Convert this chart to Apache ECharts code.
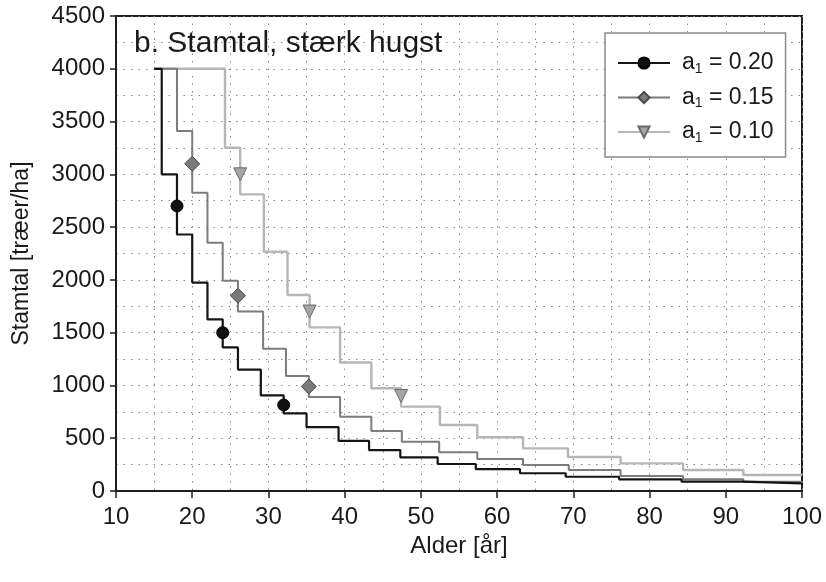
<!DOCTYPE html>
<html><head><meta charset="utf-8">
<script src="https://cdn.jsdelivr.net/npm/echarts@6/dist/echarts.min.js"></script>
<style>html,body{margin:0;padding:0;background:#fff}#c{width:826px;height:582px}</style>
</head><body><div id="c"></div>
<script>
// ---- data ----
const seriesNames = ['0.20', '0.15', '0.10'];
const ages020  = [15, 16, 18, 20, 22, 24, 26, 29, 32, 35, 39.2, 43.2, 47.3, 52.2, 57.2, 63, 69, 76, 84.2, 92.2, 100];
const stems020 = [4000, 3000, 2430, 1975, 1625, 1360, 1150, 905, 735, 605, 475, 388, 319, 256, 208, 168, 135, 111, 88, 73, 73];
const ages015  = [15, 18, 20, 22, 24, 26, 29.3, 32.3, 35.3, 39.4, 43.5, 47.5, 52.4, 57.4, 63.4, 69.4, 76.2, 84.4, 92.3, 100];
const stems015 = [4000, 3410, 2826, 2352, 1993, 1700, 1348, 1089, 890, 704, 568, 467, 366, 303, 246, 199, 142, 111, 88, 88];
const ages010  = [15, 24.3, 26.3, 29.4, 32.5, 35.4, 39.4, 43.5, 47.4, 52.5, 57.4, 63.4, 69.3, 76.2, 84.4, 92.3, 100];
const stems010 = [4000, 3252, 2810, 2267, 1857, 1550, 1218, 973, 799, 625, 509, 404, 322, 262, 199, 152, 152];
const markAges020 = [18, 24, 32];      const markStems020 = [2700, 1500, 815];
const markAges015 = [20, 26, 35.3];    const markStems015 = [3100, 1850, 990];
const markAges010 = [26.3, 35.4, 47.4]; const markStems010 = [3000, 1700, 900];
const xTicks = [10, 20, 30, 40, 50, 60, 70, 80, 90, 100];
const yTicks = [0, 500, 1000, 1500, 2000, 2500, 3000, 3500, 4000, 4500];
const titleText = 'b. Stamtal, stærk hugst';
const xName = 'Alder [år]';
const yName = 'Stamtal [træer/ha]';

const zip = (a, b) => a.map((v, i) => [v, b[i]]);
const FONT = '"Liberation Sans", Arial, Helvetica, sans-serif';

const styles = [
  { line: '#151515', width: 2.2, symbol: 'circle', size: 12, rot: 0, fill: '#111', border: '#000' },
  { line: '#7c7c7c', width: 2, symbol: 'diamond', size: 15, rot: 0, fill: '#7a7a7a', border: '#4a4a4a' },
  { line: '#b6b6b6', width: 2.4, symbol: 'triangle', size: 13, rot: 180, fill: '#a6a6a6', border: '#6a6a6a' }
];
const lineData = [zip(ages020, stems020), zip(ages015, stems015), zip(ages010, stems010)];
const markData = [zip(markAges020, markStems020), zip(markAges015, markStems015), zip(markAges010, markStems010)];

const series = [];
[2, 1, 0].forEach(i => {
  const s = styles[i];
  series.push({
    name: seriesNames[i], type: 'line', step: 'end', data: lineData[i],
    showSymbol: false, symbol: s.symbol, symbolSize: s.size, symbolRotate: s.rot,
    lineStyle: { color: s.line, width: s.width },
    itemStyle: { color: s.fill, borderColor: s.border, borderWidth: 1 },
    z: 3 + (2 - i), animation: false
  });
});
[2, 1, 0].forEach(i => {
  const s = styles[i];
  series.push({
    type: 'scatter', data: markData[i], symbol: s.symbol, symbolSize: s.size, symbolRotate: s.rot,
    itemStyle: { color: s.fill, borderColor: s.border, borderWidth: 1, opacity: 1 },
    z: 6 + (2 - i), animation: false
  });
});

const dotted = { color: '#8a8a8a', width: 1, type: [1.5, 6] };
const chart = echarts.init(document.getElementById('c'), null, { renderer: 'canvas' });
chart.setOption({
  backgroundColor: '#fff',
  animation: false,
  title: {
    text: titleText, left: 129, top: 24,
    textStyle: { fontFamily: FONT, fontSize: 30, fontWeight: 'normal', color: '#1a1a1a' }
  },
  grid: { left: 116, right: 24, top: 16, bottom: 91, show: true, borderColor: '#1e1e1e', borderWidth: 2, containLabel: false },
  xAxis: {
    type: 'value', min: xTicks[0], max: xTicks[xTicks.length - 1], interval: 10,
    name: xName, nameLocation: 'middle', nameGap: 43,
    nameTextStyle: { fontFamily: FONT, fontSize: 24, color: '#1a1a1a' },
    axisLine: { show: true, lineStyle: { color: '#1e1e1e', width: 2 } },
    axisTick: { show: true, inside: false, length: 7, lineStyle: { color: '#1e1e1e', width: 1.5 } },
    axisLabel: { fontFamily: FONT, fontSize: 24, color: '#1a1a1a', margin: 14,
      formatter: v => xTicks.includes(v) ? String(v) : '' },
    splitLine: { show: true, lineStyle: dotted },
    minorTick: { show: false, splitNumber: 2 },
    minorSplitLine: { show: true, lineStyle: dotted }
  },
  yAxis: {
    type: 'value', min: yTicks[0], max: yTicks[yTicks.length - 1], interval: 500,
    name: yName, nameLocation: 'middle', nameGap: 83, nameRotate: 90,
    nameTextStyle: { fontFamily: FONT, fontSize: 23, color: '#1a1a1a' },
    axisLine: { show: true, lineStyle: { color: '#1e1e1e', width: 2 } },
    axisTick: { show: true, inside: false, length: 6, lineStyle: { color: '#1e1e1e', width: 1.5 } },
    axisLabel: { fontFamily: FONT, fontSize: 24, color: '#1a1a1a', margin: 11,
      formatter: v => yTicks.includes(v) ? String(v) : '' },
    splitLine: { show: true, lineStyle: dotted },
    minorTick: { show: false, splitNumber: 2 },
    minorSplitLine: { show: true, lineStyle: dotted }
  },
  legend: {
    data: seriesNames, orient: 'vertical', left: 605, top: 33,
    backgroundColor: '#fff', borderColor: '#8a8a8a', borderWidth: 1.5,
    padding: [18, 12, 12, 12], itemGap: 9.5, itemWidth: 52, itemHeight: 14,
    textStyle: { fontFamily: FONT, fontSize: 23, color: '#1a1a1a', lineHeight: 24, padding: [0, 0, 0, 7],
      rich: { s: { fontFamily: FONT, fontSize: 14, color: '#1a1a1a', padding: [12, 0, 0, 0] } } },
    formatter: n => 'a{s|1} = ' + n
  },
  series: series
});
</script></body></html>
